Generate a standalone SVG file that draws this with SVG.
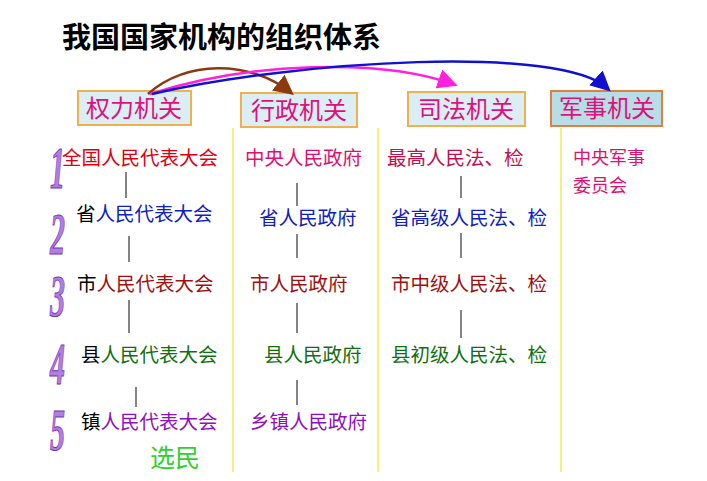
<svg xmlns="http://www.w3.org/2000/svg" width="707" height="481" viewBox="0 0 707 481">
<style>
text{font-family:"Noto Sans CJK SC","Noto Sans",sans-serif}
.h{font-size:24px;fill:#e0107a}
.t{font-size:19.5px}
.box{fill:#daeef3;stroke:#f0b050;stroke-width:2}
.yl{stroke:#f6f080;stroke-width:2}
.vl{stroke:#333;stroke-width:1.2}
.num{font-family:"Liberation Serif",serif;font-style:italic;font-weight:bold;font-size:60px;fill:#b080e0;stroke:#7a30c0;stroke-width:1}
</style>
<defs>
<marker id="mb" markerWidth="8" markerHeight="8" refX="6" refY="4" orient="auto"><path d="M0,0L8,4L0,8z" fill="#8b3a10"/></marker>
<marker id="mm" markerWidth="8" markerHeight="8" refX="6" refY="4" orient="auto"><path d="M0,0L8,4L0,8z" fill="#ff20e0"/></marker>
<marker id="mu" markerWidth="8" markerHeight="8" refX="6" refY="4" orient="auto"><path d="M0,0L8,4L0,8z" fill="#1010d0"/></marker>
</defs>
<rect width="707" height="481" fill="#fff"/>
<text x="62" y="48" style="font-size:29px;font-weight:bold" fill="#000">我国国家机构的组织体系</text>
<g id="lines">
<line class="yl" x1="233" y1="128" x2="233" y2="472"/>
<line class="yl" x1="378" y1="128" x2="378" y2="472"/>
<line class="yl" x1="561" y1="128" x2="561" y2="472"/>
</g>
<g id="n1"><rect class="box" x="78" y="91" width="113" height="34"/><text class="h" x="86" y="117">权力机关</text></g>
<g id="n2"><rect class="box" x="241" y="93" width="116" height="34"/><text class="h" x="251" y="119">行政机关</text></g>
<g id="n3"><rect class="box" x="408" y="92" width="117" height="34"/><text class="h" x="418" y="118">司法机关</text></g>
<g id="n4"><rect class="box" x="551" y="91" width="111" height="35" style="fill:#b8dde6;stroke:#e08040"/><text class="h" x="559" y="117">军事机关</text></g>
<g id="connectors" fill="none" stroke-width="2.5">
<path d="M148,94 C185,60 250,60 290,92" stroke="#8b3a10" marker-end="url(#mb)"/>
<path d="M150,94 C250,62 380,58 453,84" stroke="#ff20e0" marker-end="url(#mm)"/>
<path d="M152,94 C300,60 560,45 607,88" stroke="#1010d0" marker-end="url(#mu)"/>
<g class="vl">
<line x1="126" y1="172" x2="126" y2="198"/><line x1="129" y1="236" x2="129" y2="262"/><line x1="129" y1="300" x2="129" y2="333"/><line x1="136" y1="387" x2="136" y2="407"/>
<line x1="297" y1="183" x2="297" y2="206"/><line x1="297" y1="234" x2="297" y2="258"/><line x1="297" y1="303" x2="297" y2="333"/><line x1="297" y1="380" x2="297" y2="405"/>
<line x1="461" y1="176" x2="461" y2="198"/><line x1="461" y1="233" x2="461" y2="258"/><line x1="461" y1="310" x2="461" y2="338"/>
</g>
</g>
<g id="nums" transform="scale(0.5,1)">
<text class="num" x="100" y="188">1</text><text class="num" x="100" y="254">2</text><text class="num" x="100" y="316">3</text><text class="num" x="100" y="384">4</text><text class="num" x="100" y="450">5</text>
</g>
<g id="col1">
<text x="62" y="165" class="t" fill="#e00010">全国人民代表大会</text>
<text x="76" y="221" class="t"><tspan fill="#000">省</tspan><tspan fill="#1020c0">人民代表大会</tspan></text>
<text x="77" y="291" class="t"><tspan fill="#000">市</tspan><tspan fill="#a01010">人民代表大会</tspan></text>
<text x="81" y="362" class="t"><tspan fill="#000">县</tspan><tspan fill="#107010">人民代表大会</tspan></text>
<text x="81" y="429" class="t"><tspan fill="#000">镇</tspan><tspan fill="#9010c0">人民代表大会</tspan></text>
<text x="150" y="467" style="font-size:25px" fill="#30d030">选民</text>
</g>
<g id="col2">
<text x="245" y="165" class="t" fill="#e01070">中央人民政府</text>
<text x="259" y="225" class="t" fill="#1020c0">省人民政府</text>
<text x="250" y="291" class="t" fill="#a01010">市人民政府</text>
<text x="264" y="362" class="t" fill="#107010">县人民政府</text>
<text x="250" y="429" class="t" fill="#9010c0">乡镇人民政府</text>
</g>
<g id="col3">
<text x="387" y="165" class="t" fill="#c01050">最高人民法、检</text>
<text x="391" y="225" class="t" fill="#1020c0">省高级人民法、检</text>
<text x="391" y="291" class="t" fill="#a01010">市中级人民法、检</text>
<text x="391" y="362" class="t" fill="#107010">县初级人民法、检</text>
</g>
<g id="col4">
<text x="573" y="164" style="font-size:18px" fill="#e01070">中央军事</text>
<text x="573" y="192" style="font-size:18px" fill="#e01070">委员会</text>
</g>
</svg>
